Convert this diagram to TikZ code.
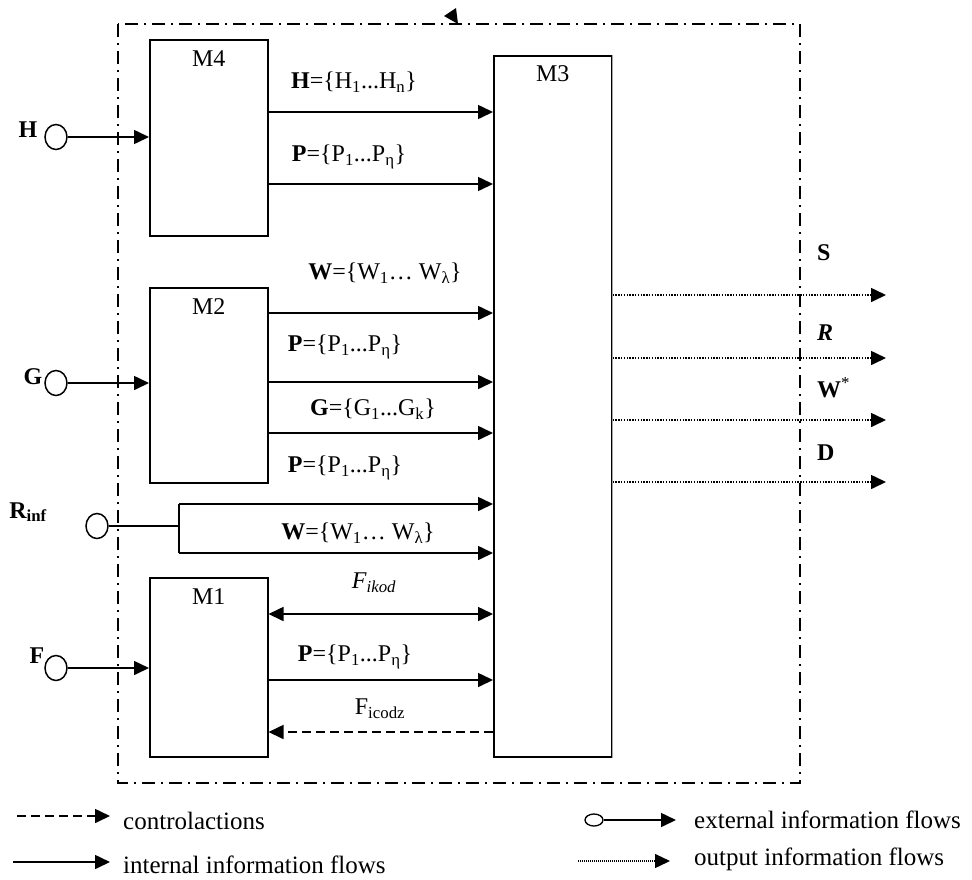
\documentclass[tikz,border=0pt]{standalone}
\usepackage{fontspec}
\setmainfont{Liberation Serif}
\usetikzlibrary{arrows.meta,shapes.geometric}
\newcommand{\labsz}{\fontsize{24}{28}\selectfont}
\newcommand{\legsz}{\fontsize{25}{29}\selectfont}
\tikzset{
  tip/.style={-{Triangle[length=15pt,width=14pt]}},
  flow/.style={line width=1.6pt, tip},
  bothflow/.style={line width=1.6pt, {Triangle[length=15pt,width=14pt]}-{Triangle[length=15pt,width=14pt]}},
  ctrl/.style={flow, dash pattern=on 9pt off 5pt},
  outflow/.style={line width=1.6pt, dash pattern=on 1.4pt off 1.4pt, tip},
  plainline/.style={line width=1.6pt},
  dashdotbox/.style={line width=1.6pt, dash pattern=on 13pt off 6pt on 2pt off 6pt},
  module/.style={draw, line width=1.5pt, rectangle, minimum width=118pt, anchor=north west, inner sep=0pt},
  mlab/.style={font=\labsz, inner sep=0pt},
  lab/.style={font=\labsz, inner sep=0pt},
  ext/.style={draw, ellipse, line width=1.5pt, minimum width=22pt, minimum height=25pt, inner sep=0pt},
  leg/.style={font=\legsz, inner sep=0pt, anchor=base west}
}
\begin{document}
\begin{tikzpicture}[x=1pt,y=-1pt]
\useasboundingbox (0,0) rectangle (972,879);

% outer system boundary
\draw[dashdotbox] (118,24) rectangle (800,783);
\fill (444,16) -- (456,8) -- (458,24) -- cycle;

% modules
\node[module, minimum height=196pt] (M4) at (149,39) {};
\node[module, minimum height=195pt] (M2) at (149,287) {};
\node[module, minimum height=179pt] (M1) at (149,577) {};
\node[module, minimum height=701pt] (M3) at (493,55) {};
\draw[gray!70, line width=1.6pt] (M3.north east) -- (M3.south east);
\node[mlab] (M4l) at ([yshift=-20pt]M4.north) {M4};
\node[mlab] (M2l) at ([yshift=-20pt]M2.north) {M2};
\node[mlab] (M1l) at ([yshift=-20pt]M1.north) {M1};
\node[mlab] (M3l) at ([yshift=-19pt]M3.north) {M3};

% external inputs
\node[ext] (Hc) at (56,137) {};
\node[ext] (Gc) at (56,383) {};
\node[ext] (Rc) at (97,526) {};
\node[ext] (Fc) at (56,668) {};
\node[lab, font=\labsz\bfseries] (Hn) at (28,130) {H};
\node[lab, font=\labsz\bfseries] (Gn) at (33,377) {G};
\node[lab, font=\labsz\bfseries] (Rn) at (28,512) {R\textsubscript{inf}};
\node[lab, font=\labsz\bfseries] (Fn) at (37,656) {F};
\draw[flow] (Hc.east) -- (M4.west |- Hc.east);
\draw[flow] (Gc.east) -- (M2.west |- Gc.east);
\draw[flow] (Fc.east) -- (M1.west |- Fc.east);
\coordinate (rmid) at (179,526);
\coordinate (rtop) at (179,504);
\coordinate (rbot) at (179,553);
\draw[plainline] (Rc.east) -- (rmid);
\draw[plainline] (rtop) -- (rbot);
\draw[flow] (rtop) -- (M3.west |- rtop);
\draw[flow] (rbot) -- (M3.west |- rbot);

% M4 -> M3
\draw[flow] (M4.east |- 0,112) -- (M3.west |- 0,112);
\draw[flow] (M4.east |- 0,184) -- (M3.west |- 0,184);
\node[lab] (l1) at (354,82) {\textbf{H}=\{H\textsubscript{1}...H\textsubscript{n}\}};
\node[lab] (l2) at (349,157) {\textbf{P}=\{P\textsubscript{1}...P\textsubscript{η}\}};

% M2 -> M3
\draw[flow] (M2.east |- 0,313) -- (M3.west |- 0,313);
\draw[flow] (M2.east |- 0,382) -- (M3.west |- 0,382);
\draw[flow] (M2.east |- 0,433) -- (M3.west |- 0,433);
\node[lab] (l3) at (385,273) {\textbf{W}=\{W\textsubscript{1}… W\textsubscript{λ}\}};
\node[lab] (l4) at (345,347) {\textbf{P}=\{P\textsubscript{1}...P\textsubscript{η}\}};
\node[lab] (l5) at (373,409) {\textbf{G}=\{G\textsubscript{1}...G\textsubscript{k}\}};
\node[lab] (l6) at (345,468) {\textbf{P}=\{P\textsubscript{1}...P\textsubscript{η}\}};
\node[lab] (l7) at (358,533) {\textbf{W}=\{W\textsubscript{1}… W\textsubscript{λ}\}};

% M1 <-> M3
\draw[bothflow] (M1.east |- 0,614) -- (M3.west |- 0,614);
\draw[flow] (M1.east |- 0,680) -- (M3.west |- 0,680);
\draw[ctrl] (M3.west |- 0,732) -- (M1.east |- 0,732);
\node[lab] (l8) at (374,583) {\textit{F\textsubscript{ikod}}};
\node[lab] (l9) at (355,657) {\textbf{P}=\{P\textsubscript{1}...P\textsubscript{η}\}};
\node[lab] (l10) at (380,709) {F\textsubscript{icodz}};

% outputs
\coordinate (oS) at (886,295);
\coordinate (oR) at (886,358);
\coordinate (oW) at (886,420);
\coordinate (oD) at (886,482);
\draw[outflow] (M3.east |- oS) -- (oS);
\draw[outflow] (M3.east |- oR) -- (oR);
\draw[outflow] (M3.east |- oW) -- (oW);
\draw[outflow] (M3.east |- oD) -- (oD);
\node[lab, anchor=west] (lS) at (817,253) {\textbf{S}};
\node[lab, anchor=west] (lR) at (817,333) {\textbf{\textit{R}}};
\node[lab, anchor=west] (lW) at (817,388) {\textbf{W}\textsuperscript{*}};
\node[lab, anchor=west] (lD) at (817,453) {\textbf{D}};

% legend
\coordinate (c1a) at (17,816);  \coordinate (c1b) at (110,816);
\draw[ctrl] (c1a) -- (c1b);
\node[leg] (t1) at (123,829) {controlactions};
\coordinate (c2a) at (13,862);  \coordinate (c2b) at (110,862);
\draw[flow] (c2a) -- (c2b);
\node[leg] (t2) at (123,873) {internal information flows};
\node[draw, ellipse, line width=1.3pt, minimum width=18pt, minimum height=12pt, inner sep=0pt] (c3a) at (594,820) {};
\coordinate (c3b) at (676,820);
\draw[flow] (c3a.east) -- (c3b);
\node[leg] (t3) at (694,828) {external information flows};
\coordinate (c4a) at (578,861);  \coordinate (c4b) at (670,861);
\draw[line width=1.3pt, dash pattern=on 1pt off 1pt, tip] (c4a) -- (c4b);
\node[leg] (t4) at (694,865) {output information flows};
\end{tikzpicture}
\end{document}
